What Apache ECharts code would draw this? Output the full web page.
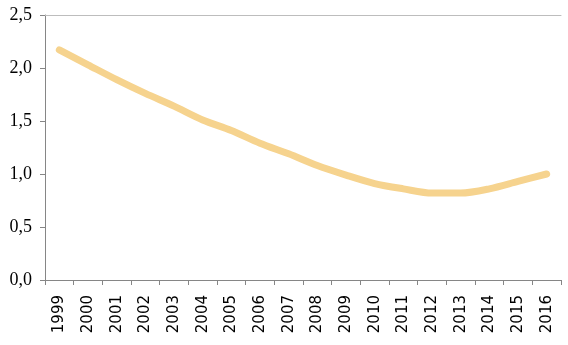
<!DOCTYPE html>
<html>
<head>
<meta charset="utf-8">
<script src="https://cdn.jsdelivr.net/npm/echarts@6/dist/echarts.min.js"></script>
<style>
  html, body { margin: 0; padding: 0; background: #fff; }
  #chart { width: 568px; height: 345px; }
</style>
</head>
<body>
<div id="chart"></div>
<script>
// Years along the category axis
var years = ['1999','2000','2001','2002','2003','2004','2005','2006','2007',
             '2008','2009','2010','2011','2012','2013','2014','2015','2016'];
// Yearly values
var values = [2.17, 2.03, 1.89, 1.76, 1.64, 1.51, 1.41, 1.29, 1.19,
              1.08, 0.99, 0.91, 0.86, 0.82, 0.82, 0.86, 0.93, 1.00];
// Value axis range and step
var yMin = 0, yMax = 2.5, yStep = 0.5;

var chart = echarts.init(document.getElementById('chart'), null, { renderer: 'canvas' });
var serif = '"Liberation Serif", "Times New Roman", serif';
var sans = '"DejaVu Sans", Verdana, sans-serif';

chart.setOption({
  animation: false,
  grid: { left: 45, right: 7, top: 15, bottom: 65, containLabel: false },
  xAxis: [{
    type: 'category',
    data: years,
    boundaryGap: true,
    position: 'bottom',
    axisLine: { show: true, lineStyle: { color: '#868686', width: 1 } },
    axisTick: { show: true, length: 5, alignWithLabel: false, lineStyle: { color: '#868686' } },
    axisLabel: { rotate: 90, margin: 15, color: '#000', fontFamily: sans, fontSize: 15 },
    splitLine: { show: false }
  }, {
    type: 'category',
    data: years,
    position: 'top',
    axisLine: { show: true, lineStyle: { color: '#bdbdbd', width: 1 } },
    axisTick: { show: false },
    axisLabel: { show: false },
    splitLine: { show: false }
  }],
  yAxis: {
    type: 'value',
    min: yMin, max: yMax, interval: yStep,
    axisLine: { show: true, lineStyle: { color: '#868686', width: 1 } },
    axisTick: { show: true, length: 5, lineStyle: { color: '#868686' } },
    axisLabel: {
      margin: 13, color: '#000', fontFamily: serif, fontSize: 18,
      formatter: function (v) { return v.toFixed(1).replace('.', ','); }
    },
    splitLine: { show: false }
  },
  series: [{
    type: 'line',
    data: values,
    xAxisIndex: 0,
    smooth: 0.3,
    showSymbol: false,
    symbol: 'none',
    lineStyle: { color: '#F6D38E', width: 7, cap: 'round', join: 'round' }
  }]
});
</script>
</body>
</html>
